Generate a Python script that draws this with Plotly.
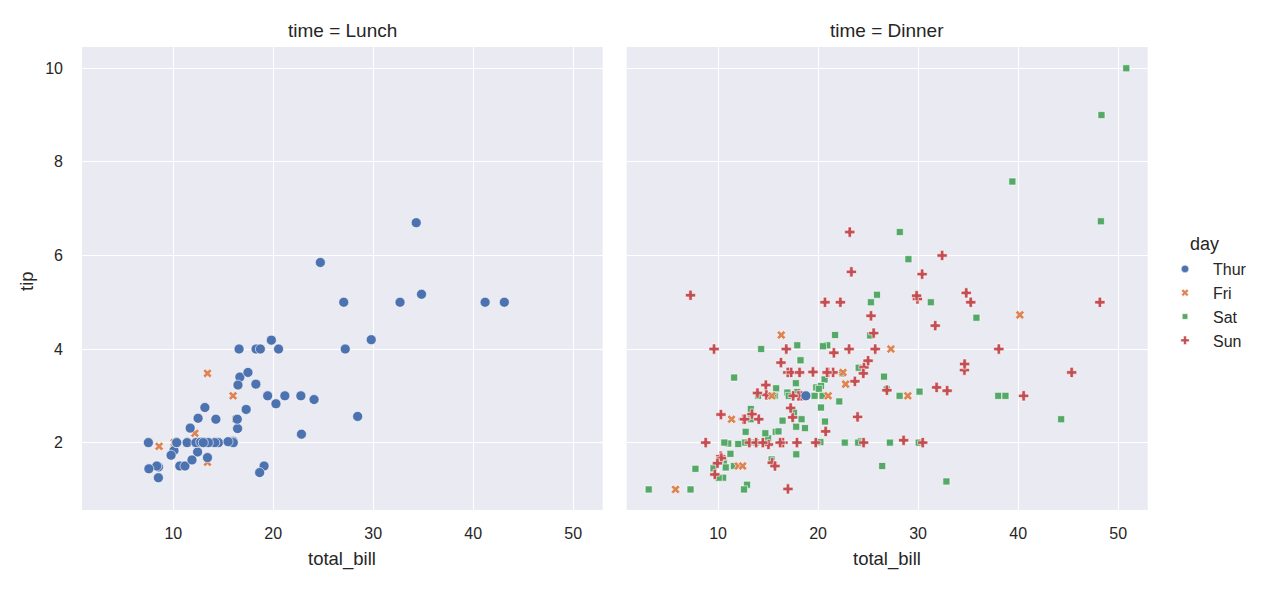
import plotly.graph_objects as go

# ---- data (seaborn "tips": total_bill, tip) ----
lunch_thur_bill = [27.2, 22.76, 17.29, 19.44, 16.66, 10.07, 32.68, 15.98, 34.83, 13.03, 18.28, 24.71, 21.16,
                   10.65, 12.43, 24.08, 11.69, 13.42, 14.26, 15.95, 12.48, 29.8, 8.52, 14.52, 11.38, 22.82, 19.08,
                   20.27, 11.17, 12.26, 18.26, 8.51, 10.33, 14.15, 16.0, 13.16, 17.47, 34.3, 41.19, 27.05, 16.43,
                   8.35, 18.64, 11.87, 9.78, 7.51, 19.81, 28.44, 15.48, 16.58, 7.56, 10.34, 43.11, 13.0, 13.51,
                   18.71, 12.74, 13.0, 16.4, 20.53, 16.47]
lunch_thur_tip = [4.0, 3.0, 2.71, 3.0, 3.4, 1.83, 5.0, 2.03, 5.17, 2.0, 4.0, 5.85, 3.0,
                  1.5, 1.8, 2.92, 2.31, 1.68, 2.5, 2.0, 2.52, 4.2, 1.48, 2.0, 2.0, 2.18, 1.5,
                  2.83, 1.5, 2.0, 3.25, 1.25, 2.0, 2.0, 2.0, 2.75, 3.5, 6.7, 5.0, 5.0, 2.3,
                  1.5, 1.36, 1.63, 1.73, 2.0, 4.19, 2.56, 2.02, 4.0, 1.44, 2.0, 5.0, 2.0, 2.0,
                  4.0, 2.01, 2.0, 2.5, 4.0, 3.23]
lunch_fri_bill = [12.16, 13.42, 8.58, 15.98, 13.42, 16.27, 10.09]
lunch_fri_tip = [2.2, 3.48, 1.92, 3.0, 1.58, 2.5, 2.0]

dinner_thur_bill = [18.78]
dinner_thur_tip = [3.0]
dinner_fri_bill = [28.97, 22.49, 5.75, 16.32, 22.75, 40.17, 27.28, 12.03, 21.01, 12.46, 11.35, 15.38]
dinner_fri_tip = [3.0, 3.5, 1.0, 4.3, 3.25, 4.73, 4.0, 1.5, 3.0, 1.5, 2.5, 3.0]
dinner_sat_bill = [20.65, 17.92, 20.29, 15.77, 39.42, 19.82, 17.81, 13.37, 12.69, 21.7, 19.65, 9.55, 18.35,
                   15.06, 20.69, 17.78, 24.06, 16.31, 16.93, 18.69, 31.27, 16.04,
                   38.01, 26.41, 11.24, 48.27, 20.29, 13.81, 11.02, 18.29, 17.59, 20.08, 16.45, 3.07, 20.23,
                   15.01, 12.02, 17.07, 26.86, 25.28, 14.73, 10.51, 17.92,
                   44.3, 22.42, 20.92, 15.36, 20.49, 25.21, 18.24, 14.31, 14.0, 7.25,
                   10.59, 10.63, 50.81, 15.81,
                   26.59, 38.73, 24.27, 12.76, 30.06, 25.89, 48.33, 13.27, 28.17, 12.9, 28.15, 11.59, 7.74, 30.14,
                   20.45, 13.28, 22.12, 24.01, 15.69, 11.61, 10.77, 15.53, 10.07, 12.6, 32.83, 35.83, 29.03,
                   27.18, 22.67, 17.82]
dinner_sat_tip = [3.35, 4.08, 2.75, 2.23, 7.58, 3.18, 2.34, 2.0, 2.0, 4.3, 3.0, 1.45, 2.5,
                  3.0, 2.45, 3.27, 3.6, 2.0, 3.07, 2.31, 5.0, 2.24,
                  3.0, 1.5, 1.76, 6.73, 3.21, 2.0, 1.98, 3.76, 2.64, 3.15, 2.47, 1.0, 2.01,
                  2.09, 1.97, 3.0, 3.14, 5.0, 2.2, 1.25, 3.08,
                  2.5, 3.48, 4.08, 1.64, 4.06, 4.29, 3.76, 4.0, 3.0, 1.0,
                  1.61, 2.0, 10.0, 3.16,
                  3.41, 3.0, 2.03, 2.23, 2.0, 5.16, 9.0, 2.5, 6.5, 1.1, 3.0, 1.5, 1.44, 3.09,
                  3.0, 2.72, 2.88, 2.0, 3.0, 3.39, 1.47, 3.0, 1.25, 1.0, 1.17, 4.67, 5.92,
                  2.0, 2.0, 1.75]
dinner_sun_bill = [16.99, 10.34, 21.01, 23.68, 24.59, 25.29, 8.77, 26.88, 15.04, 14.78, 10.27, 35.26, 15.42,
                   18.43, 14.83, 21.58, 10.33, 16.29, 16.97,
                   17.46, 13.94, 9.68, 30.4, 18.29, 22.23, 32.4, 28.55, 18.04, 12.54, 10.29, 34.81, 9.94,
                   25.56, 19.49,
                   38.07, 23.95, 25.71, 17.31, 29.93,
                   14.07, 13.13, 17.26, 24.55, 19.77, 29.85, 48.17, 25.0, 13.39, 16.49, 21.5, 12.66, 16.21,
                   13.81, 17.51, 24.52, 20.76, 31.71,
                   7.25, 31.85, 16.82, 32.9, 17.89, 14.48, 9.6, 34.63, 34.65, 23.33, 45.35, 23.17, 40.55,
                   20.69, 20.9, 30.46, 18.15, 23.1, 15.69]
dinner_sun_tip = [1.01, 1.66, 3.5, 3.31, 3.61, 4.71, 2.0, 3.12, 1.96, 3.23, 1.71, 5.0, 1.57,
                  3.0, 3.02, 3.92, 1.67, 3.71, 3.5,
                  2.54, 3.06, 1.32, 5.6, 3.0, 5.0, 6.0, 2.05, 3.0, 2.5, 2.6, 5.2, 1.56,
                  4.34, 3.51,
                  4.0, 2.55, 4.0, 3.5, 5.07,
                  2.5, 2.0, 2.74, 2.0, 2.0, 5.14, 5.0, 3.75, 2.61, 2.0, 3.5, 2.5, 2.0,
                  2.0, 3.0, 3.48, 2.24, 4.5,
                  5.15, 3.18, 4.0, 3.11, 2.0, 2.0, 4.0, 3.55, 3.68, 5.65, 3.5, 6.5, 3.0,
                  5.0, 3.5, 2.0, 3.5, 4.0, 1.5]

days = ["Thur", "Fri", "Sat", "Sun"]
x_ticks = [10, 20, 30, 40, 50]
y_ticks = [2, 4, 6, 8, 10]

colors = {"Thur": "#4C72B0", "Fri": "#DD8452", "Sat": "#55A868", "Sun": "#C44E52"}
symbols = {"Thur": "circle", "Fri": "x", "Sat": "square", "Sun": "cross"}
sizes = {"Thur": 10, "Fri": 8, "Sat": 7, "Sun": 8.5}
leg_sizes = {"Thur": 7.5, "Fri": 6.5, "Sat": 5.5, "Sun": 7}

panels = [
    ("x", "y", {"Thur": (lunch_thur_bill, lunch_thur_tip), "Fri": (lunch_fri_bill, lunch_fri_tip)}),
    ("x2", "y2", {"Thur": (dinner_thur_bill, dinner_thur_tip), "Fri": (dinner_fri_bill, dinner_fri_tip),
                  "Sat": (dinner_sat_bill, dinner_sat_tip), "Sun": (dinner_sun_bill, dinner_sun_tip)}),
]

FONT = "Liberation Sans"
TXT = "#262626"
W, H = 1280, 589

fig = go.Figure()
for xa, ya, groups in panels:
    for d in ["Sat", "Sun", "Fri", "Thur"]:
        if d not in groups:
            continue
        xs, ys = groups[d]
        fig.add_trace(go.Scatter(
            x=xs, y=ys, mode="markers", xaxis=xa, yaxis=ya, showlegend=False,
            marker=dict(symbol=symbols[d], color=colors[d], size=sizes[d],
                        line=dict(color="white", width=0.6)),
        ))

for d in days:
    fig.add_trace(go.Scatter(
        x=[None], y=[None], mode="markers", name=d, xaxis="x2", yaxis="y2",
        marker=dict(symbol=symbols[d], color=colors[d], size=leg_sizes[d],
                    line=dict(color="white", width=0.5)),
    ))

ydom = [1 - 510 / H, 1 - 47 / H]
xdom1 = [82 / W, 602.7 / W]
xdom2 = [626.7 / W, 1147.7 / W]
xr = [0.87, 52.95]
yr = [0.56, 10.455]

tickfont = dict(family=FONT, size=16, color=TXT)
xaxis_common = dict(showgrid=True, gridcolor="white", gridwidth=1.2, zeroline=False, showline=False,
                    ticks="", tickfont=tickfont, tickvals=x_ticks, range=xr, ticklabelstandoff=12)
yaxis_common = dict(showgrid=True, gridcolor="white", gridwidth=1.2, zeroline=False, showline=False,
                    ticks="", tickfont=tickfont, tickvals=y_ticks, range=yr, ticklabelstandoff=18)


def ann(text, x, y, size, angle=0):
    return dict(text=text, x=x, y=y, xref="paper", yref="paper", showarrow=False,
                xanchor="center", yanchor="middle", textangle=angle,
                font=dict(family=FONT, size=size, color=TXT))


fig.update_layout(
    width=W, height=H,
    margin=dict(l=0, r=0, t=0, b=0),
    paper_bgcolor="white", plot_bgcolor="#EAEAF2",
    font=dict(family=FONT, size=16, color=TXT),
    xaxis=dict(domain=xdom1, anchor="y", **xaxis_common),
    yaxis=dict(domain=ydom, anchor="x", **yaxis_common),
    xaxis2=dict(domain=xdom2, anchor="y2", **xaxis_common),
    yaxis2=dict(domain=ydom, anchor="x2", matches="y", showticklabels=False, **yaxis_common),
    legend=dict(x=1157 / W, y=1 - 252 / H, xanchor="left", yanchor="top",
                font=dict(family=FONT, size=16, color=TXT), bgcolor="rgba(0,0,0,0)",
                itemwidth=46, tracegroupgap=0),
    annotations=[
        ann("time = Lunch", sum(xdom1) / 2, 1 - 30.7 / H, 19),
        ann("time = Dinner", sum(xdom2) / 2, 1 - 30.7 / H, 19),
        ann("total_bill", sum(xdom1) / 2, 1 - 559 / H, 18.5),
        ann("total_bill", sum(xdom2) / 2, 1 - 559 / H, 18.5),
        ann("tip", 27 / W, 1 - 281 / H, 18.5, angle=-90),
        ann("day", 1204.5 / W, 1 - 244 / H, 18),
    ],
)

fig.write_html("out.html")
